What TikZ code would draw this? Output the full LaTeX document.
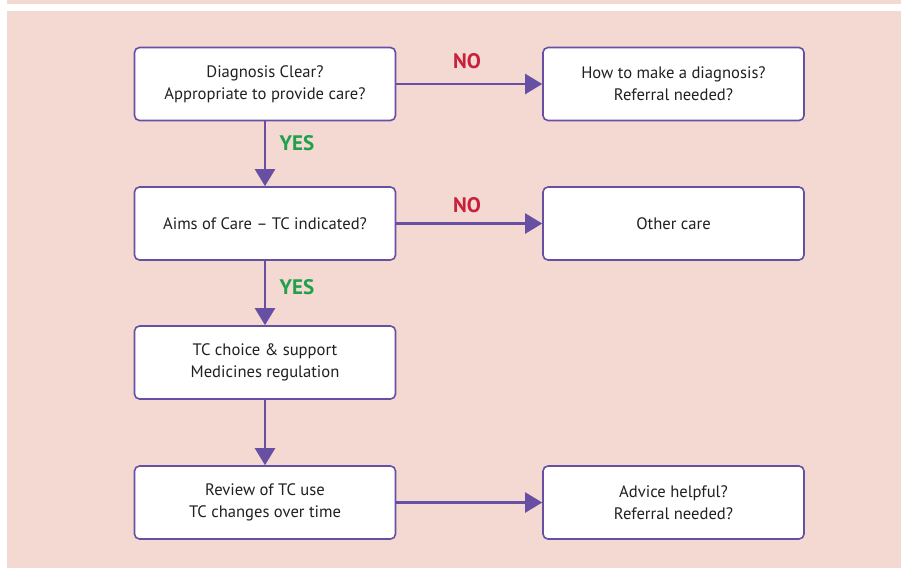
\documentclass[tikz,border=0pt]{standalone}
\usepackage{fontspec}
\setmainfont{PT Sans}
\usetikzlibrary{arrows.meta}
\definecolor{panelpink}{HTML}{F4D9D3}
\definecolor{flowpurple}{HTML}{6750A4}
\definecolor{boxtext}{HTML}{231F20}
\definecolor{yesgreen}{HTML}{1FA04B}
\definecolor{nored}{HTML}{C8203C}
\tikzset{
  stepbox/.style={draw=flowpurple, fill=white, line width=1.6pt, rounded corners=5pt, minimum width=261pt, minimum height=73pt, inner sep=0pt, align=center, text=boxtext, font=\fontsize{16.6}{22}\selectfont},
  flow/.style={-{Triangle[length=17pt,width=20pt]}, draw=flowpurple, line width=2.2pt},
  yeslbl/.style={font=\fontsize{21}{21}\selectfont\bfseries, text=yesgreen, inner sep=0pt},
  nolbl/.style={font=\fontsize{21}{21}\selectfont\bfseries, text=nored, inner sep=0pt},
  panel/.style={fill=panelpink, draw=none},
}

\begin{document}
\begin{tikzpicture}[x=1pt,y=-1pt]
  \useasboundingbox (0,0) rectangle (901,568);
  \fill[panel] (7,0) rectangle (901,4);
  \fill[panel] (7,11) rectangle (901,568);
  % left column
  \node[stepbox] (diag) at (265,84) {Diagnosis Clear?\\Appropriate to provide care?};
  \node[stepbox] (aims) at (265,223.5) {Aims of Care -- TC indicated?};
  \node[stepbox] (choice) at (265,362.5) {TC choice \& support\\Medicines regulation};
  \node[stepbox] (review) at (265,502.5) {Review of TC use\\TC changes over time};
  % right column
  \node[stepbox] (howto) at (673.5,84) {How to make a diagnosis?\\Referral needed?};
  \node[stepbox] (other) at (673.5,223.5) {Other care};
  \node[stepbox] (advice) at (673.5,502.5) {Advice helpful?\\Referral needed?};
  % answers
  \node[yeslbl] (yesa) at (297,143) {YES};
  \node[yeslbl] (yesb) at (297,287.5) {YES};
  \node[nolbl] (noa) at (467,61) {NO};
  \node[nolbl] (nob) at (467,205) {NO};
  \draw[flow] (diag) -- (aims);
  \draw[flow] (aims) -- (choice);
  \draw[flow] (choice) -- (review);
  \draw[flow] (diag) -- (howto);
  \draw[flow] (aims) -- (other);
  \draw[flow] (review) -- (advice);
\end{tikzpicture}
\end{document}
